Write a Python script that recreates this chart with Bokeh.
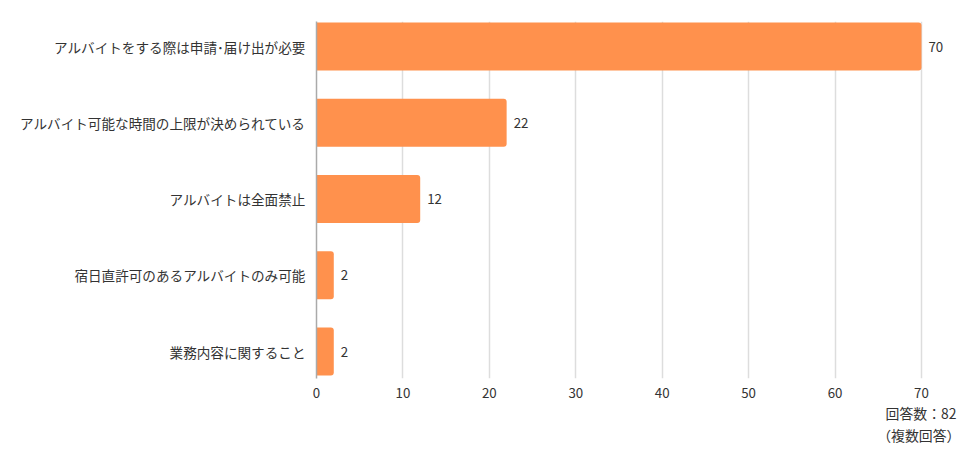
from bokeh.plotting import figure
from bokeh.models import Range1d, FixedTicker, Title, ColumnDataSource
from bokeh.core.properties import value
from bokeh.embed import file_html
from bokeh.resources import INLINE

categories = [
    "アルバイトをする際は申請･届け出が必要",
    "アルバイト可能な時間の上限が決められている",
    "アルバイトは全面禁止",
    "宿日直許可のあるアルバイトのみ可能",
    "業務内容に関すること",
]
counts = [70, 22, 12, 2, 2]
x_ticks = [0, 10, 20, 30, 40, 50, 60, 70]
note_lines = ["回答数：82", "（複数回答）"]

FONT = "Noto Sans CJK JP"
BAR_COLOR = "#FF914D"
TEXT_COLOR = "#333333"

ypos = list(range(len(categories)))
src = ColumnDataSource(dict(y=ypos, x=counts, lab=[str(c) for c in counts]))

# pixel geometry
W, H = 976, 459
left, right_edge, top, bottom = 316, 960, 21, 378
px_per_unit_x = (921 - 316.5) / 70.0
x_end = 70 + (right_edge - 921) / px_per_unit_x
band = 76.25
y_top = -(46 - top) / band
y_bot = 4 + (bottom - 351) / band

p = figure(width=W, height=H, output_backend="svg", toolbar_location=None,
           x_range=Range1d(0, x_end), y_range=Range1d(y_bot, y_top),
           min_border_left=left, min_border_right=W - right_edge,
           min_border_top=top, min_border_bottom=H - bottom)
p.outline_line_color = None
p.background_fill_color = "white"

p.hbar(y="y", right="x", left=0, height=48 / band, source=src,
       fill_color=BAR_COLOR, line_color=None, border_radius=(0, 3, 3, 0))

p.text(x="x", y="y", text="lab", source=src, x_offset=7,
       text_align="left", text_baseline="middle",
       text_font=value(FONT), text_font_size="13.3px", text_color=TEXT_COLOR)

# axes
p.xaxis.ticker = FixedTicker(ticks=x_ticks)
p.xaxis.axis_line_color = None
p.xaxis.major_tick_line_color = None
p.xaxis.minor_tick_line_color = None
p.xaxis.major_label_standoff = 3
p.xaxis.major_label_text_font = FONT
p.xaxis.major_label_text_font_size = "13.3px"
p.xaxis.major_label_text_color = TEXT_COLOR

p.yaxis.ticker = FixedTicker(ticks=ypos)
p.yaxis.major_label_overrides = {i: c for i, c in enumerate(categories)}
p.yaxis.axis_line_color = "#AAAAAA"
p.yaxis.axis_line_width = 1.5
p.yaxis.major_tick_line_color = None
p.yaxis.minor_tick_line_color = None
p.yaxis.major_label_standoff = 5
p.yaxis.major_label_text_font = FONT
p.yaxis.major_label_text_font_size = "13.6px"
p.yaxis.major_label_text_color = TEXT_COLOR

p.xgrid.ticker = FixedTicker(ticks=x_ticks[1:])
p.xgrid.grid_line_color = "#DDDDDD"
p.xgrid.grid_line_width = 1.5
p.ygrid.grid_line_color = None

# footnote as titles below the x axis
for txt, off in zip(note_lines, [4, 0]):
    p.add_layout(Title(text=txt, align="right", offset=off, standoff=0,
                       text_font=FONT, text_font_size="13.9px",
                       text_font_style="normal", text_color=TEXT_COLOR), "below")

open("out.html", "w").write(file_html(p, INLINE))
